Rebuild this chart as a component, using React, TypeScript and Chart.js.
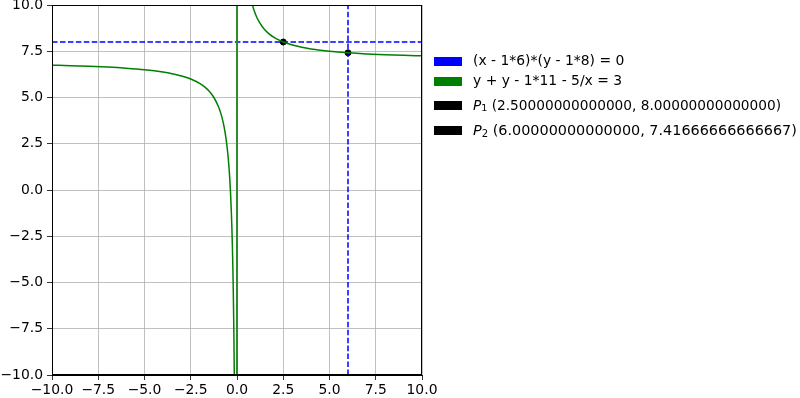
import React, { useEffect, useRef } from 'react';
import { Chart, registerables } from 'chart.js';

Chart.register(...registerables);

// ---- data ----
const axisTicks = [-10, -7.5, -5, -2.5, 0, 2.5, 5, 7.5, 10];

// y + y - 11 - 5/x = 3, left branch
const leftX = [-10, -9, -8, -7, -6, -5, -4, -3.5, -3, -2.5, -2, -1.75, -1.5, -1.25, -1, -0.9, -0.8, -0.7, -0.6, -0.5, -0.45, -0.4, -0.35, -0.3, -0.275, -0.25, -0.225, -0.2, -0.18, -0.165, -0.147];
const leftY = [6.75, 6.722, 6.6875, 6.643, 6.583, 6.5, 6.375, 6.286, 6.167, 6.0, 5.75, 5.571, 5.333, 5.0, 4.5, 4.222, 3.875, 3.429, 2.833, 2.0, 1.444, 0.75, -0.143, -1.333, -2.091, -3.0, -4.111, -5.5, -6.889, -8.152, -10.0];
// right branch
const rightX = [0.833, 0.875, 0.95, 1.0, 1.1, 1.2, 1.35, 1.5, 1.75, 2.0, 2.25, 2.5, 3.0, 3.5, 4, 4.5, 5, 6, 7, 8, 9, 10];
const rightY = [10.0, 9.857, 9.632, 9.5, 9.273, 9.083, 8.852, 8.667, 8.429, 8.25, 8.111, 8.0, 7.833, 7.714, 7.625, 7.556, 7.5, 7.417, 7.357, 7.3125, 7.278, 7.25];
// spurious vertical contour line at x = 0
const asymX = [0, 0];
const asymY = [-10, 10];

// (x - 6)*(y - 8) = 0
const lineXValue = 6;
const lineYValue = 8;

// points
const pointX = [2.5, 6.0];
const pointY = [8.0, 7.41666666666667];

const eqLabels = ['(x - 1*6)*(y - 1*8) = 0', 'y + y - 1*11 - 5/x = 3'];

const fmt = (v: number) => {
  const s = Math.abs(v).toFixed(1);
  return v < 0 ? '\u2212' + s : s;
};

const zip = (xs: number[], ys: number[]) => xs.map((x, i) => ({ x, y: ys[i] }));

const FONT = '"DejaVu Sans", sans-serif';
const FS = 13.9;

const legendPlugin = {
  id: 'customLegendAndFrame',
  afterDraw(chart: any) {
    const ctx = chart.ctx as CanvasRenderingContext2D;
    const a = chart.chartArea;
    ctx.save();
    // frame
    ctx.strokeStyle = 'black';
    ctx.lineWidth = 1;
    ctx.strokeRect(Math.round(a.left) + 0.5, Math.round(a.top) + 0.5, Math.round(a.right - a.left) - 1, Math.round(a.bottom - a.top) - 1);

    const rows = [
      { color: '#0000ff', sub: '', text: eqLabels[0], cy: 61.5, fs: FS },
      { color: '#008000', sub: '', text: eqLabels[1], cy: 81.5, fs: FS },
      { color: '#000000', sub: '1', text: ` (${pointX[0].toFixed(14)}, ${pointY[0].toFixed(14)})`, cy: 105, fs: 13.7 },
      { color: '#000000', sub: '2', text: ` (${pointX[1].toFixed(14)}, ${pointY[1].toFixed(14)})`, cy: 130, fs: 14.4 },
    ];
    ctx.textBaseline = 'middle';
    rows.forEach((r) => {
      ctx.fillStyle = r.color;
      ctx.fillRect(434, Math.round(r.cy - 4.5), 28, 9);
      ctx.fillStyle = 'black';
      let x = 473;
      if (r.sub) {
        ctx.font = `oblique ${r.fs}px ${FONT}`;
        ctx.fillText('P', x, r.cy + 1);
        x += ctx.measureText('P').width;
        ctx.font = `${r.fs * 0.7}px ${FONT}`;
        ctx.fillText(r.sub, x, r.cy + 4);
        x += ctx.measureText(r.sub).width;
      }
      ctx.font = `${r.fs}px ${FONT}`;
      ctx.fillText(r.text, x, r.cy + (r.sub ? 1 : 0));
    });
    ctx.restore();
  },
};

export default function App() {
  const ref = useRef<HTMLCanvasElement | null>(null);
  useEffect(() => {
    if (!ref.current) return;
    const greenLine = { borderColor: '#008000', backgroundColor: '#008000', borderWidth: 1.5, pointRadius: 0, showLine: true, fill: false };
    const blueLine = { borderColor: '#0000ff', borderWidth: 1.5, borderDash: [5.55, 2.4], showLine: true, pointRadius: 0, fill: false };
    const chart = new Chart(ref.current, {
      type: 'scatter',
      data: {
        datasets: [
          { ...greenLine, label: eqLabels[1], data: zip(leftX, leftY), cubicInterpolationMode: 'monotone' } as any,
          { ...greenLine, label: eqLabels[1], data: zip(rightX, rightY), cubicInterpolationMode: 'monotone' } as any,
          { ...greenLine, label: eqLabels[1], data: zip(asymX, asymY), borderWidth: 2, borderColor: '#2e8b2e' } as any,
          { ...blueLine, label: eqLabels[0], data: [{ x: lineXValue, y: -10 }, { x: lineXValue, y: 10 }] } as any,
          { ...blueLine, label: eqLabels[0], data: [{ x: -10, y: lineYValue }, { x: 10, y: lineYValue }] } as any,
          { label: 'P', data: zip(pointX, pointY), backgroundColor: 'black', borderColor: 'black', pointRadius: 3, showLine: false } as any,
        ],
      },
      options: {
        animation: false,
        responsive: false,
        devicePixelRatio: 1,
        layout: { padding: { top: 5, right: 378, left: 0, bottom: 0 } },
        plugins: { legend: { display: false }, tooltip: { enabled: false } },
        scales: {
          x: {
            type: 'linear',
            min: -10,
            max: 10,
            afterBuildTicks: (s: any) => { s.ticks = axisTicks.map((v) => ({ value: v })); },
            afterFit: (s: any) => { s.height = 23; s.paddingLeft = 0; s.paddingRight = 0; s.paddingTop = 0; s.paddingBottom = 0; },
            grid: { color: '#b0b0b0', lineWidth: 0.8, tickColor: 'black', tickLength: 5, drawTicks: true },
            border: { display: true, color: 'black', width: 1 },
            ticks: { color: 'black', font: { family: FONT, size: FS }, padding: 2, maxRotation: 0, autoSkip: false, callback: (v: any) => fmt(Number(v)) },
          },
          y: {
            type: 'linear',
            min: -10,
            max: 10,
            afterBuildTicks: (s: any) => { s.ticks = axisTicks.map((v) => ({ value: v })); },
            afterFit: (s: any) => { s.width = 52; s.paddingLeft = 0; s.paddingRight = 0; s.paddingTop = 0; s.paddingBottom = 0; },
            grid: { color: '#b0b0b0', lineWidth: 0.8, tickColor: 'black', tickLength: 5, drawTicks: true },
            border: { display: true, color: 'black', width: 1 },
            ticks: { color: 'black', font: { family: FONT, size: FS }, padding: 4, autoSkip: false, callback: (v: any) => fmt(Number(v)) },
          },
        },
      },
      plugins: [legendPlugin],
    });
    return () => chart.destroy();
  }, []);
  return (
    <div style={{ position: 'absolute', left: 0, top: 0, width: 800, height: 398, background: 'white' }}>
      <canvas ref={ref} width={800} height={398} style={{ width: 800, height: 398, display: 'block' }} />
    </div>
  );
}
